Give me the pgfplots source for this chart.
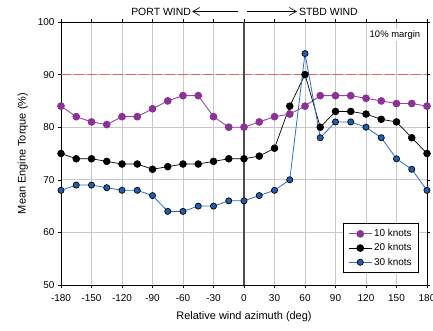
\documentclass[border=0pt]{standalone}
\usepackage{fontspec}
\setmainfont{Liberation Sans}
\usepackage{pgfplots}
\pgfplotsset{compat=1.18}
\usetikzlibrary{arrows.meta}
\definecolor{purp}{RGB}{140,50,150}
\definecolor{purpl}{RGB}{150,70,165}
\definecolor{bluef}{RGB}{30,95,175}
\definecolor{bluel}{RGB}{45,110,195}
\definecolor{redl}{RGB}{232,100,100}
\definecolor{gridc}{RGB}{200,200,200}
\begin{document}
\begin{tikzpicture}
\begin{axis}[
  scale only axis, width=366bp, height=263bp,
  xmin=-180, xmax=180, ymin=50, ymax=100,
  xtick={-180,-150,...,180}, ytick={50,60,...,100},
  grid=major, major grid style={gridc, line width=0.9pt},
  axis line style={black, line width=0.8pt},
  tick align=outside, major tick length=3bp,
  tick style={black, line width=0.6pt},
  /pgf/number format/assume math mode=true,
  ticklabel style={font=\fontsize{10}{12}\selectfont},
  xticklabel style={yshift=-3bp},
  xlabel={Relative wind azimuth (deg)},
  ylabel={Mean Engine Torque (\%)},
  xlabel style={yshift=-3bp},
  ylabel style={yshift=3bp},
  label style={font=\fontsize{11}{13}\selectfont},
  clip=false,
  legend style={at={(0.978,0.046)}, anchor=south east, font=\fontsize{10}{12}\selectfont, draw=black, line width=0.6pt, row sep=1.5pt, inner xsep=5pt, inner ysep=4pt},
  legend cell align=left,
  legend image code/.code={\draw[mark repeat=2,mark phase=2] plot coordinates {(0cm,0cm) (0.4cm,0cm) (0.8cm,0cm)};},
  legend image post style={line width=0.8pt},
]
\addplot[redl, line width=1.5pt, dash pattern=on 10pt off 3pt, forget plot] coordinates {(-180,90) (180,90)};
\addplot[purpl, line width=0.9pt, mark=*, mark size=3.4pt, mark options={fill=purp, draw=purp}] coordinates {
(-180,84) (-165,82) (-150,81) (-135,80.5) (-120,82) (-105,82) (-90,83.5) (-75,85) (-60,86) (-45,86) (-30,82) (-15,80) (0,80) (15,81) (30,82) (45,82.5) (60,84) (75,86) (90,86) (105,86) (120,85.5) (135,85) (150,84.5) (165,84.5) (180,84)};
\addlegendentry{10 knots}
\addplot[black, line width=0.7pt, mark=*, mark size=3.4pt, mark options={fill=black}] coordinates {
(-180,75) (-165,74) (-150,74) (-135,73.5) (-120,73) (-105,73) (-90,72) (-75,72.5) (-60,73) (-45,73) (-30,73.5) (-15,74) (0,74) (15,74.5) (30,76) (45,84) (60,90) (75,80) (90,83) (105,83) (120,82.5) (135,81.5) (150,81) (165,78) (180,75)};
\addlegendentry{20 knots}
\addplot[bluel, line width=0.8pt, mark=*, mark size=3.1pt, mark options={fill=bluef, draw=black, line width=0.7pt}] coordinates {
(-180,68) (-165,69) (-150,69) (-135,68.5) (-120,68) (-105,68) (-90,67) (-75,64) (-60,64) (-45,65) (-30,65) (-15,66) (0,66) (15,67) (30,68) (45,70) (60,94) (75,78) (90,81) (105,81) (120,80) (135,78) (150,74) (165,72) (180,68)};
\addlegendentry{30 knots}
\draw[black!70, line width=1.3pt] (axis cs:0,50) -- (axis cs:0,100);
\node[fill=white, inner sep=1.5pt, font=\fontsize{9.5}{11}\selectfont] at (axis cs:148.5,97.5) {10\% margin};
\node[anchor=east, inner sep=0pt, font=\fontsize{10.5}{12}\selectfont] at (axis cs:-52,102.0) {PORT WIND};
\node[anchor=west, inner sep=0pt, font=\fontsize{10.5}{12}\selectfont] at (axis cs:54,102.0) {STBD WIND};
\draw[-{Straight Barb[length=7pt,width=8pt]}, line width=0.6pt] (axis cs:-6,102.0) -- (axis cs:-51,102.0);
\draw[-{Straight Barb[length=7pt,width=8pt]}, line width=0.6pt] (axis cs:3,102.0) -- (axis cs:52,102.0);
\end{axis}
\pgfresetboundingbox
\path[use as bounding box] (-61bp,-46bp) rectangle (372bp,285bp);
\end{tikzpicture}
\end{document}
